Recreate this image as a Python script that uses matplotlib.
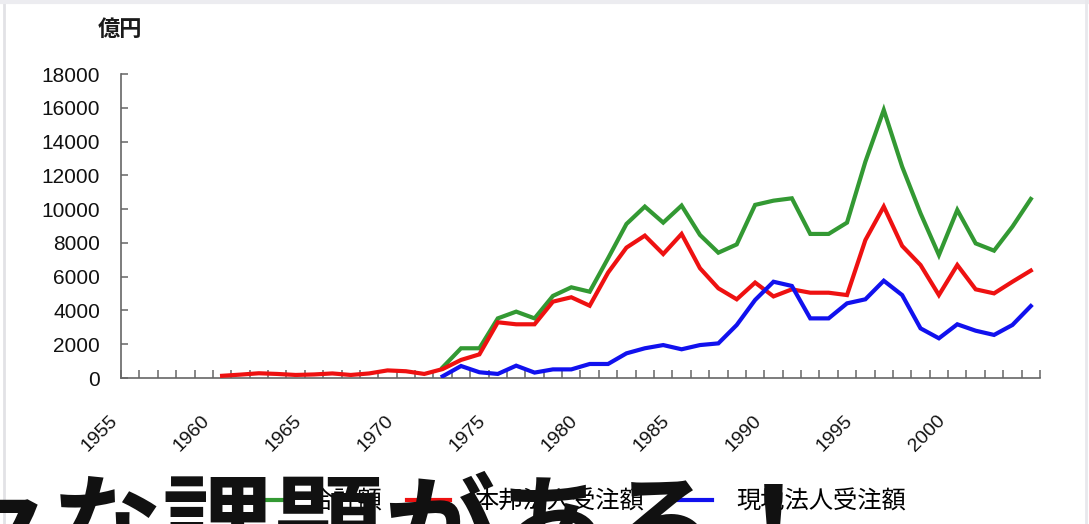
import matplotlib
matplotlib.use("Agg")
import matplotlib.pyplot as plt
from matplotlib.lines import Line2D
from matplotlib.transforms import ScaledTranslation

# 海外建設受注額の推移（億円）
years_domestic = list(range(1960, 2005))
domestic = [130, 200, 280, 240, 180, 210, 270, 180, 270, 450,
            400, 240, 530, 1070, 1400, 3300, 3180, 3180, 4520, 4780,
            4280, 6240, 7720, 8430, 7340, 8530, 6500, 5310, 4660, 5650,
            4830, 5250, 5050, 5050, 4910, 8170, 10150, 7820, 6690, 4910,
            6690, 5250, 5010, 5700, 6360]

years_local = list(range(1972, 2005))
local = [100, 710, 340, 240, 730, 320, 510, 510, 830, 830,
         1460, 1760, 1950, 1700, 1950, 2050, 3140, 4620, 5700, 5450,
         3530, 3530, 4420, 4660, 5760, 4910, 2940, 2350, 3180, 2800,
         2550, 3140, 4260]

years_total = list(range(1972, 2005))
total = [630, 1760, 1760, 3530, 3930, 3530, 4860, 5370, 5110, 7090,
         9120, 10150, 9200, 10210, 8470, 7420, 7910, 10250, 10500, 10640,
         8530, 8530, 9200, 12810, 15870, 12510, 9750, 7280, 9950, 7970,
         7540, 8960, 10600]

series_labels = ["合計額", "本邦法人受注額", "現地法人受注額"]
series_colors = ["#339933", "#ee1111", "#1111ee"]

year_first, year_last = 1955, 2004
label_years = list(range(1955, 2001, 5))
y_ticks = list(range(0, 18001, 2000))

W, H = 1089, 524
fig = plt.figure(figsize=(W / 100, H / 100), dpi=100)
fig.patch.set_facecolor("white")

ax = fig.add_axes([121 / W, 1 - 378 / H, 919 / W, 304 / H])
ax.plot(years_total, total, color=series_colors[0], lw=3, solid_joinstyle="miter", zorder=2)
ax.plot(years_domestic, domestic, color=series_colors[1], lw=3, solid_joinstyle="miter", zorder=3)
ax.plot(years_local, local, color=series_colors[2], lw=3, solid_joinstyle="miter", zorder=4)

ax.set_xlim(year_first - 0.5, year_last + 0.5)
ax.set_ylim(0, 18000)

for s in ["top", "right"]:
    ax.spines[s].set_visible(False)
for s in ["left", "bottom"]:
    ax.spines[s].set_color("#666666")
    ax.spines[s].set_linewidth(1.2)

ax.set_yticks(y_ticks)
ax.set_yticklabels([str(v) for v in y_ticks], fontsize=15, family="Liberation Sans", color="#111111")
ax.tick_params(axis="y", direction="in", length=5, width=1.1, color="#666666", pad=15)

ax.set_xticks(label_years)
ax.set_xticklabels([str(v) for v in label_years], fontsize=14, family="Liberation Sans",
                   color="#111111", rotation=45, ha="right", va="center", rotation_mode="anchor")
ax.set_xticks([y - 0.5 for y in range(year_first, year_last + 2)], minor=True)
ax.tick_params(axis="x", which="major", length=0, pad=29)
ax.tick_params(axis="x", which="minor", direction="in", length=6, width=1.1, color="#666666")
shift = ScaledTranslation(-0.15, 0, fig.dpi_scale_trans)
for lbl in ax.get_xticklabels():
    lbl.set_transform(lbl.get_transform() + shift)

fig.text(98 / W, 1 - 29 / H, "億円", fontsize=16, family="Noto Sans CJK JP",
         fontweight="bold", ha="left", va="center", color="#1a1a1a")

handles = [Line2D([], [], color=c, lw=3) for c in series_colors]
fig.legend(handles, series_labels, loc="center", bbox_to_anchor=(574 / W, 1 - 502 / H),
           ncol=3, frameon=False, handlelength=1.8, handletextpad=1.0, columnspacing=1.0,
           prop={"family": "Noto Sans CJK JP", "size": 17.5})

fig.text(-59 / W, 1 - 566 / H, "々な課題がある！", fontsize=80, family="Noto Sans CJK JP",
         fontweight="bold", ha="left", va="baseline", color="#111111", zorder=10)

# slide frame
fig.add_artist(Line2D([4 / W, 4 / W], [0, 1], transform=fig.transFigure, color="#e2e2e6", lw=2))
fig.add_artist(Line2D([0, 1], [1 - 1.5 / H, 1 - 1.5 / H], transform=fig.transFigure, color="#ececf0", lw=3))
fig.add_artist(Line2D([1086 / W, 1086 / W], [0, 1], transform=fig.transFigure, color="#e8e8ec", lw=2))

fig.savefig("out.png", dpi=100)
